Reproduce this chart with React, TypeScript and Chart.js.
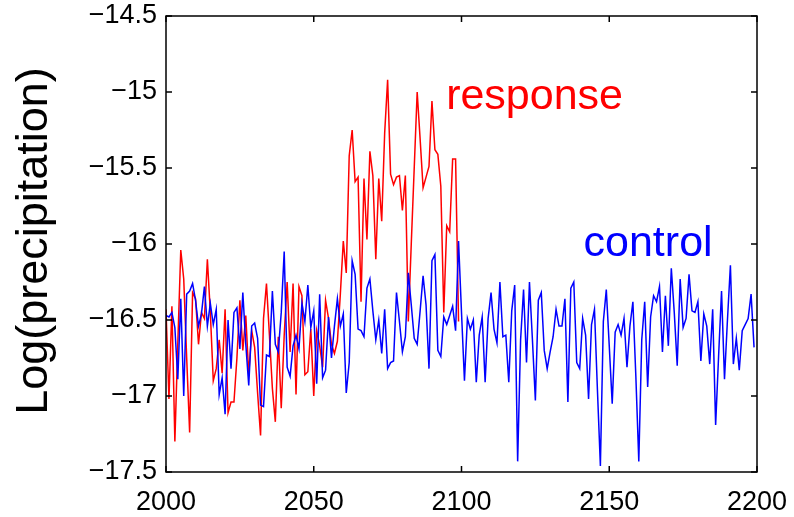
import { useEffect, useRef } from "react";
import { Chart, registerables } from "chart.js";

Chart.register(...registerables);

// Annual series start year
const FIRST_YEAR = 2000;

// Axis ticks
const X_TICKS = [2000, 2050, 2100, 2150, 2200];
const Y_TICKS = [-17.5, -17, -16.5, -16, -15.5, -15, -14.5];

// Control run, 2000-2199
const control = [
  -16.47, -16.48, -16.45, -16.55, -16.89, -16.36, -17.0, -16.33, -16.31, -16.26,
  -16.37, -16.54, -16.46, -16.28, -16.54, -16.39, -16.53, -16.43, -16.99, -16.88,
  -17.12, -16.5, -16.82, -16.45, -16.42, -16.69, -16.32, -16.66, -16.93, -16.54,
  -16.52, -16.62, -17.06, -17.07, -16.73, -16.74, -16.31, -16.66, -16.71, -16.45,
  -16.05, -16.81, -16.87, -16.67, -16.6, -16.69, -16.39, -16.51, -16.27, -16.55,
  -16.44, -16.92, -16.33, -16.88, -16.83, -16.48, -16.75, -16.54, -16.36, -16.54,
  -16.46, -16.98, -16.78, -16.11, -16.2, -16.56, -16.57, -16.61, -16.29, -16.23,
  -16.44, -16.63, -16.5, -16.72, -16.43, -16.82, -16.78, -16.77, -16.32, -16.51,
  -16.71, -16.61, -16.19, -16.4, -16.62, -16.66, -16.44, -16.21, -16.4, -16.82,
  -16.11, -16.07, -16.7, -16.74, -16.48, -16.53, -16.47, -16.41, -16.57, -15.98,
  -16.45, -16.9, -16.49, -16.56, -16.5, -16.91, -16.6, -16.48, -16.91, -16.49,
  -16.32, -16.56, -16.65, -16.25, -16.61, -16.6, -16.91, -16.44, -16.27, -17.43,
  -16.63, -16.3, -16.78, -16.25, -16.63, -17.03, -16.37, -16.32, -16.7, -16.82,
  -16.71, -16.61, -16.43, -16.54, -16.54, -16.36, -17.04, -16.29, -16.25, -16.78,
  -16.82, -16.49, -16.6, -17.02, -16.53, -16.43, -16.96, -17.46, -16.51, -16.3,
  -16.67, -17.05, -16.58, -16.53, -16.6, -16.49, -16.81, -16.54, -16.38, -16.87,
  -17.43, -16.63, -16.38, -16.94, -16.48, -16.34, -16.38, -16.28, -16.71, -16.34,
  -16.67, -16.16, -16.45, -16.8, -16.23, -16.55, -16.49, -16.2, -16.44, -16.45,
  -16.38, -16.77, -16.46, -16.54, -16.79, -16.43, -17.19, -16.74, -16.31, -16.89,
  -16.5, -16.14, -16.79, -16.62, -16.83, -16.57, -16.53, -16.49, -16.33, -16.68,
];

// Response run, 2000-2099
const response = [
  -16.43, -17.02, -16.41, -17.3, -16.65, -16.04, -16.23, -16.75, -17.24, -16.32,
  -16.36, -16.66, -16.45, -16.49, -16.1, -16.45, -16.9, -16.82, -16.63, -16.85,
  -16.43, -17.11, -17.04, -17.04, -16.75, -16.37, -16.7, -16.47, -16.86, -16.57,
  -16.68, -16.98, -17.26, -16.49, -16.26, -16.6, -16.95, -17.17, -16.61, -17.08,
  -16.6, -16.25, -16.71, -16.26, -16.99, -16.28, -16.34, -16.86, -16.84, -16.56,
  -17.0, -16.57, -16.67, -16.81, -16.37, -16.49, -16.66, -16.72, -16.64, -16.33,
  -15.98, -16.19, -15.42, -15.25, -15.59, -15.56, -16.38, -15.57, -15.97, -15.39,
  -15.55, -16.1, -15.57, -15.85, -15.27, -14.92, -15.54, -15.61, -15.56, -15.55,
  -15.78, -15.55, -16.51, -16.0, -15.5, -15.0, -15.31, -15.63, -15.56, -15.49,
  -15.06, -15.38, -15.41, -15.62, -16.45, -15.88, -15.92, -15.44, -15.44, -16.51,
];

const W = 794;
const H = 517;
const PLOT = { left: 166, top: 16, right: 757, bottom: 472 };
const FONT = '"Liberation Sans", Arial, Helvetica, sans-serif';

const toPoints = (vals: number[]) => vals.map((v, i) => ({ x: FIRST_YEAR + i, y: v }));

const fmt = (v: number) => (v < 0 ? "\u2212" + String(Math.abs(v)) : String(v));

// Box frame, inward ticks on all four sides, axis title and series labels
const framePlugin = {
  id: "frame",
  afterDatasetsDraw(chart: any) {
    const { ctx, chartArea, scales } = chart;
    const { left, top, right, bottom } = chartArea;
    const xs = scales.x;
    const ys = scales.y;
    const len = 6;
    ctx.save();
    ctx.strokeStyle = "#000";
    ctx.lineWidth = 1.5;
    ctx.strokeRect(left, top, right - left, bottom - top);
    ctx.beginPath();
    X_TICKS.forEach((v) => {
      const px = xs.getPixelForValue(v);
      ctx.moveTo(px, bottom);
      ctx.lineTo(px, bottom - len);
      ctx.moveTo(px, top);
      ctx.lineTo(px, top + len);
    });
    Y_TICKS.forEach((v) => {
      const py = ys.getPixelForValue(v);
      ctx.moveTo(left, py);
      ctx.lineTo(left + len, py);
      ctx.moveTo(right, py);
      ctx.lineTo(right - len, py);
    });
    ctx.stroke();

    // y-axis title
    ctx.save();
    ctx.translate(35, 241);
    ctx.rotate(-Math.PI / 2);
    ctx.font = `45px ${FONT}`;
    ctx.fillStyle = "#000";
    ctx.textAlign = "center";
    ctx.textBaseline = "middle";
    ctx.fillText("Log(precipitation)", 0, 0);
    ctx.restore();

    // series labels
    ctx.font = `43px ${FONT}`;
    ctx.textAlign = "left";
    ctx.textBaseline = "alphabetic";
    ctx.fillStyle = "#ff0000";
    ctx.fillText("response", xs.getPixelForValue(2094.8), ys.getPixelForValue(-15.11));
    ctx.fillStyle = "#0000ff";
    ctx.fillText("control", xs.getPixelForValue(2141.3), ys.getPixelForValue(-16.08));
    ctx.restore();
  },
};

export default function App() {
  const canvasRef = useRef<HTMLCanvasElement | null>(null);

  useEffect(() => {
    const canvas = canvasRef.current;
    if (!canvas) return;
    const chart = new Chart(canvas, {
      type: "line",
      data: {
        datasets: [
          {
            label: "control",
            data: toPoints(control),
            borderColor: "#0000ff",
            borderWidth: 1.5,
            pointRadius: 0,
            tension: 0,
            fill: false,
          },
          {
            label: "response",
            data: toPoints(response),
            borderColor: "#ff0000",
            borderWidth: 1.5,
            pointRadius: 0,
            tension: 0,
            fill: false,
          },
        ],
      },
      options: {
        responsive: false,
        animation: false,
        devicePixelRatio: 1,
        layout: {
          padding: { left: 0, top: PLOT.top, right: W - PLOT.right, bottom: 0 },
        },
        plugins: {
          legend: { display: false },
          tooltip: { enabled: false },
        },
        scales: {
          x: {
            type: "linear",
            min: 2000,
            max: 2200,
            afterBuildTicks: (s: any) => {
              s.ticks = X_TICKS.map((v) => ({ value: v }));
            },
            afterFit: (s: any) => {
              s.height = H - PLOT.bottom;
              s.paddingLeft = 0;
              s.paddingRight = 0;
            },
            grid: { display: false, drawTicks: false },
            border: { display: false },
            ticks: {
              autoSkip: false,
              maxRotation: 0,
              padding: 14,
              color: "#000",
              font: { family: FONT, size: 27 },
              callback: (v: any) => String(v),
            },
          },
          y: {
            type: "linear",
            min: -17.5,
            max: -14.5,
            afterBuildTicks: (s: any) => {
              s.ticks = Y_TICKS.map((v) => ({ value: v }));
            },
            afterFit: (s: any) => {
              s.width = PLOT.left;
              s.paddingTop = 0;
              s.paddingBottom = 0;
            },
            grid: { display: false, drawTicks: false },
            border: { display: false },
            ticks: {
              autoSkip: false,
              padding: 9,
              color: "#000",
              font: { family: FONT, size: 27 },
              callback: (v: any) => fmt(Number(v)),
            },
          },
        },
      },
      plugins: [framePlugin],
    });
    return () => chart.destroy();
  }, []);

  return (
    <div style={{ position: "absolute", left: 0, top: 0, width: W, height: H, background: "#fff" }}>
      <canvas ref={canvasRef} width={W} height={H} style={{ display: "block" }} />
    </div>
  );
}
